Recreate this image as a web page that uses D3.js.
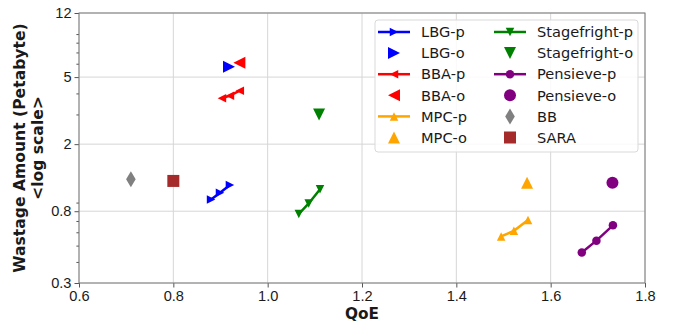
<!DOCTYPE html>
<html lang="en">
<head>
    <meta charset="UTF-8">
    <title>Wastage vs QoE</title>
    <script src="https://d3js.org/d3.v7.min.js"></script>
    <style>
        body { margin: 0; background: #fff; }
        svg { font-family: "DejaVu Sans", sans-serif; }
        .axis .domain { display: none; }
        .axis text { font-size: 14.6px; fill: #1a1a1a; }
        .axis line { stroke: #555; stroke-width: 1; }
    </style>
</head>
<body>
    <svg id="chart" width="674" height="325"></svg>
    <script>
        // values (QoE, wastage in PB)
        const lbgPQoE = [0.880, 0.899, 0.920];
        const lbgPWaste = [0.94, 1.03, 1.145];
        const lbgOQoE = [0.918];
        const lbgOWaste = [5.75];

        const bbaPQoE = [0.903, 0.920, 0.941];
        const bbaPWaste = [3.74, 3.88, 4.15];
        const bbaOQoE = [0.940];
        const bbaOWaste = [6.08];

        const mpcPQoE = [1.495, 1.522, 1.552];
        const mpcPWaste = [0.567, 0.612, 0.71];
        const mpcOQoE = [1.550];
        const mpcOWaste = [1.18];

        const sfPQoE = [1.066, 1.087, 1.111];
        const sfPWaste = [0.77, 0.89, 1.08];
        const sfOQoE = [1.109];
        const sfOWaste = [3.0];

        const penPQoE = [1.666, 1.697, 1.732];
        const penPWaste = [0.455, 0.535, 0.66];
        const penOQoE = [1.731];
        const penOWaste = [1.18];

        const bbQoE = [0.710];
        const bbWaste = [1.24];
        const saraQoE = [0.800];
        const saraWaste = [1.21];

        const xTicks = [0.6, 0.8, 1.0, 1.2, 1.4, 1.6, 1.8];
        const yTicks = [0.3, 0.8, 2, 5, 12];
        const yTickLabels = ["0.3", "0.8", "2", "5", "12"];
        const yMinor = [0.4, 0.5, 0.6, 0.7, 0.9, 3, 4, 6, 7, 8, 9];

        const big = 12, small = 8.5;
        const series = [
            {name: "LBG-p", qoe: lbgPQoE, waste: lbgPWaste, color: "#0000ff", marker: "right", size: small, line: true},
            {name: "LBG-o", qoe: lbgOQoE, waste: lbgOWaste, color: "#0000ff", marker: "right", size: big, line: false},
            {name: "BBA-p", qoe: bbaPQoE, waste: bbaPWaste, color: "#ff0000", marker: "left", size: small, line: true},
            {name: "BBA-o", qoe: bbaOQoE, waste: bbaOWaste, color: "#ff0000", marker: "left", size: big, line: false},
            {name: "MPC-p", qoe: mpcPQoE, waste: mpcPWaste, color: "#ffa500", marker: "up", size: small, line: true},
            {name: "MPC-o", qoe: mpcOQoE, waste: mpcOWaste, color: "#ffa500", marker: "up", size: big, line: false},
            {name: "Stagefright-p", qoe: sfPQoE, waste: sfPWaste, color: "#008000", marker: "down", size: small, line: true},
            {name: "Stagefright-o", qoe: sfOQoE, waste: sfOWaste, color: "#008000", marker: "down", size: big, line: false},
            {name: "Pensieve-p", qoe: penPQoE, waste: penPWaste, color: "#800080", marker: "circle", size: small, line: true},
            {name: "Pensieve-o", qoe: penOQoE, waste: penOWaste, color: "#800080", marker: "circle", size: big, line: false},
            {name: "BB", qoe: bbQoE, waste: bbWaste, color: "#808080", marker: "thin_diamond", size: 16, line: false},
            {name: "SARA", qoe: saraQoE, waste: saraWaste, color: "#a52a2a", marker: "square", size: 12, line: false}
        ];

        // matplotlib-like marker shapes, centred on bbox
        function markerPath(type, s) {
            const h = s / 2;
            switch (type) {
                case "right": return `M${h},0L${-h},${-h}L${-h},${h}Z`;
                case "left": return `M${-h},0L${h},${-h}L${h},${h}Z`;
                case "up": return `M0,${-h}L${h},${h}L${-h},${h}Z`;
                case "down": return `M0,${h}L${h},${-h}L${-h},${-h}Z`;
                case "square": return `M${-h},${-h}H${h}V${h}H${-h}Z`;
                case "thin_diamond": return `M0,${-h}L${h * 0.6},0L0,${h}L${-h * 0.6},0Z`;
                default: return `M${h},0A${h},${h},0,1,1,${-h},0A${h},${h},0,1,1,${h},0Z`;
            }
        }

        const svg = d3.select("#chart");
        const margin = {top: 13, right: 29, bottom: 42, left: 79};
        const width = +svg.attr("width") - margin.left - margin.right;
        const height = +svg.attr("height") - margin.top - margin.bottom;

        const x = d3.scaleLinear().domain([0.6, 1.8]).range([0, width]);
        const y = d3.scaleLog().domain([0.3, 12]).range([height, 0]);

        const g = svg.append("g").attr("transform", `translate(${margin.left},${margin.top})`);

        // grid
        g.append("g").selectAll("line").data(xTicks).join("line")
            .attr("x1", d => x(d)).attr("x2", d => x(d))
            .attr("y1", 0).attr("y2", height)
            .attr("stroke", "#d6d6d6").attr("stroke-width", 1);
        g.append("g").selectAll("line").data(yTicks).join("line")
            .attr("x1", 0).attr("x2", width)
            .attr("y1", d => y(d)).attr("y2", d => y(d))
            .attr("stroke", "#d6d6d6").attr("stroke-width", 1);

        // axes
        g.append("g").attr("class", "axis")
            .attr("transform", `translate(0,${height})`)
            .call(d3.axisBottom(x).tickValues(xTicks).tickFormat(d3.format(".1f")).tickSize(4.5).tickPadding(3.5));

        g.append("g").attr("class", "axis")
            .call(d3.axisLeft(y).tickValues(yTicks).tickFormat((d, i) => yTickLabels[i]).tickSize(4.5).tickPadding(3));

        g.append("g").attr("class", "axis")
            .call(d3.axisLeft(y).tickValues(yMinor).tickFormat("").tickSize(2.6));

        g.append("rect")
            .attr("width", width).attr("height", height)
            .attr("fill", "none").attr("stroke", "#7a7a7a").attr("stroke-width", 1);

        // data
        const line = d3.line().x(d => x(d[0])).y(d => y(d[1]));
        series.forEach(s => {
            const pts = s.qoe.map((q, i) => [q, s.waste[i]]);
            if (s.line) {
                g.append("path").datum(pts)
                    .attr("d", line)
                    .attr("fill", "none")
                    .attr("stroke", s.color)
                    .attr("stroke-width", 2.5);
            }
            g.append("g").selectAll("path").data(pts).join("path")
                .attr("transform", d => `translate(${x(d[0])},${y(d[1])})`)
                .attr("d", markerPath(s.marker, s.size))
                .attr("fill", s.color);
        });

        // legend
        const leg = svg.append("g").attr("transform", "translate(375,20)");
        leg.append("rect")
            .attr("width", 263).attr("height", 132)
            .attr("rx", 3)
            .attr("fill", "#fff").attr("fill-opacity", 0.85)
            .attr("stroke", "#d9d9d9").attr("stroke-width", 1);

        const rowY = 12, rowStep = 21.1;
        series.forEach((s, i) => {
            const col = Math.floor(i / 6), row = i % 6;
            const item = leg.append("g")
                .attr("transform", `translate(${3 + col * 116},${rowY + row * rowStep})`);
            if (s.line) {
                item.append("line")
                    .attr("x1", 0).attr("x2", 32)
                    .attr("stroke", s.color).attr("stroke-width", 2.5);
            }
            item.append("path")
                .attr("transform", "translate(16,0)")
                .attr("d", markerPath(s.marker, s.size))
                .attr("fill", s.color);
            item.append("text")
                .attr("x", 43).attr("dy", "0.36em")
                .style("font-size", "14.6px")
                .attr("fill", "#1a1a1a")
                .text(s.name);
        });

        // axis titles
        svg.append("text")
            .attr("x", margin.left + width / 2).attr("y", 318.5)
            .attr("text-anchor", "middle")
            .style("font-size", "15.3px").style("font-weight", "bold")
            .attr("fill", "#1a1a1a")
            .text("QoE");

        const yl = svg.append("text")
            .attr("transform", `translate(25,${margin.top + height / 2}) rotate(-90)`)
            .attr("text-anchor", "middle")
            .style("font-size", "15.6px").style("font-weight", "bold")
            .attr("fill", "#1a1a1a");
        yl.append("tspan").attr("x", 0).attr("y", 0).text("Wastage Amount (Petabyte)");
        yl.append("tspan").attr("x", 0).attr("y", 17.5).text("<log scale>");
    </script>
</body>
</html>
